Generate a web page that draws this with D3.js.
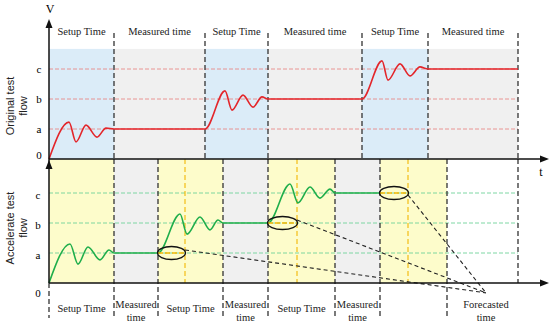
<!DOCTYPE html>
<html>
<head>
<meta charset="utf-8">
<script src="https://cdn.jsdelivr.net/npm/d3@7"></script>
<style>
  body { margin: 0; background: #fff; }
  svg { display: block; }
</style>
</head>
<body>
<svg id="chart" width="550" height="326"></svg>
<script>
// time boundaries of each phase (time units), and the level values a/b/c
const topBounds = [0, 65, 156, 219, 313, 379, 469];
const topPhases = ['Setup Time', 'Measured time', 'Setup Time', 'Measured time', 'Setup Time', 'Measured time'];
const botBounds = [0, 65, 109, 174, 219, 286, 331, 398, 469];
const botPhases = ['Setup Time', 'Measured\ntime', 'Setup Time', 'Measured\ntime', 'Setup Time', 'Measured\ntime', '', ''];
const levels = [{ name: '0', v: 0 }, { name: 'a', v: 1 }, { name: 'b', v: 2 }, { name: 'c', v: 3 }];
const forecastTimes = [136, 248, 359];
const forecastTarget = { t: 437, v: -0.33 };

// original test flow (red)
const redT = [0, 20, 27, 37, 48, 57, 65, 156, 176, 183, 194, 204, 213, 219, 313, 333, 339, 351, 361, 371, 379, 469];
const redV = [0, 1.23, 0.57, 1.13, 0.73, 1.03, 1, 1, 2.27, 1.63, 2.13, 1.73, 2.07, 2, 2, 3.27, 2.63, 3.17, 2.77, 3.07, 3, 3];
// accelerate test flow (green)
const greenT = [0, 21, 29, 39, 51, 60, 65, 109, 131, 138, 151, 161, 169, 174, 219, 241, 249, 261, 271, 281, 286, 331];
const greenV = [0, 1.3, 0.63, 1.2, 0.77, 1.1, 1, 1, 2.3, 1.63, 2.2, 1.77, 2.1, 2, 2, 3.3, 2.67, 3.2, 2.83, 3.13, 3, 3];

const svg = d3.select('#chart');
const x = d3.scaleLinear().domain([0, 500]).range([49, 549]);
const yTop = d3.scaleLinear().domain([0, 3]).range([159, 69]);
const yBot = d3.scaleLinear().domain([0, 3]).range([283, 193]);

const serif = '"Liberation Serif", "Times New Roman", serif';
const sans = '"Liberation Sans", Arial, sans-serif';

// background shading
const topFill = ['#dbecf8', '#f0f0f0'];
for (let i = 0; i < topBounds.length - 1; i++) {
  svg.append('rect')
    .attr('x', x(topBounds[i])).attr('y', yTop(3.67))
    .attr('width', x(topBounds[i + 1]) - x(topBounds[i]))
    .attr('height', yTop(0) - yTop(3.67))
    .attr('fill', topFill[i % 2]);
}
const botFill = ['#fdfccb', '#f0f0f0', '#fdfccb', '#f0f0f0', '#fdfccb', '#f0f0f0', '#fdfccb', '#fff'];
for (let i = 0; i < botBounds.length - 1; i++) {
  svg.append('rect')
    .attr('x', x(botBounds[i])).attr('y', yBot(4.13))
    .attr('width', x(botBounds[i + 1]) - x(botBounds[i]))
    .attr('height', yBot(0) - yBot(4.13))
    .attr('fill', botFill[i]);
}

// dashed level lines
levels.slice(1).forEach((l) => {
  svg.append('line')
    .attr('x1', x(0)).attr('x2', x(469))
    .attr('y1', yTop(l.v)).attr('y2', yTop(l.v))
    .attr('stroke', '#e88a88').attr('stroke-width', 0.9).attr('stroke-dasharray', '4,2');
  svg.append('line')
    .attr('x1', x(0)).attr('x2', x(469))
    .attr('y1', yBot(l.v)).attr('y2', yBot(l.v))
    .attr('stroke', '#6fd39a').attr('stroke-width', 0.9).attr('stroke-dasharray', '4,2');
});

// phase boundary dashed lines
topBounds.slice(1).forEach((t) => {
  svg.append('line')
    .attr('x1', x(t)).attr('x2', x(t)).attr('y1', 33).attr('y2', yTop(0))
    .attr('stroke', '#333').attr('stroke-width', 1.3).attr('stroke-dasharray', '5,3');
});
botBounds.forEach((t, i) => {
  const last = i === botBounds.length - 1;
  svg.append('line')
    .attr('x1', x(t)).attr('x2', x(t))
    .attr('y1', i === 0 ? yBot(0) : yTop(0))
    .attr('y2', last ? yBot(0) : 318)
    .attr('stroke', '#333').attr('stroke-width', 1.3).attr('stroke-dasharray', '5,3');
});

// forecast yellow dashed verticals
forecastTimes.forEach((t) => {
  svg.append('line')
    .attr('x1', x(t)).attr('x2', x(t)).attr('y1', yTop(0)).attr('y2', yBot(0))
    .attr('stroke', '#f2b705').attr('stroke-width', 1.1).attr('stroke-dasharray', '5,3');
});

// curves
const lineTop = d3.line().x((d) => x(d[0])).y((d) => yTop(d[1])).curve(d3.curveMonotoneX);
const lineBot = d3.line().x((d) => x(d[0])).y((d) => yBot(d[1])).curve(d3.curveMonotoneX);
svg.append('path')
  .attr('d', lineTop(d3.zip(redT, redV)))
  .attr('fill', 'none').attr('stroke', '#e3262b').attr('stroke-width', 1.6);
svg.append('path')
  .attr('d', lineBot(d3.zip(greenT, greenV)))
  .attr('fill', 'none').attr('stroke', '#1fae4b').attr('stroke-width', 1.6);

// forecast ellipses and arrows
const starts = [botBounds[2], botBounds[4], botBounds[6]];
forecastTimes.forEach((t, i) => {
  const v = i + 1;
  svg.append('line')
    .attr('x1', x(starts[i])).attr('x2', x(t))
    .attr('y1', yBot(v)).attr('y2', yBot(v))
    .attr('stroke', '#f2b705').attr('stroke-width', 1.6).attr('stroke-dasharray', '5,2');
  svg.append('ellipse')
    .attr('cx', (x(starts[i]) + x(t)) / 2).attr('cy', yBot(v))
    .attr('rx', (x(t) - x(starts[i])) / 2 + 0.5).attr('ry', 6.5)
    .attr('fill', 'none').attr('stroke', '#111').attr('stroke-width', 1.3);
  svg.append('line')
    .attr('x1', x(t)).attr('y1', yBot(v) + (i === 2 ? 2 : -3))
    .attr('x2', x(forecastTarget.t)).attr('y2', yBot(forecastTarget.v))
    .attr('stroke', '#222').attr('stroke-width', 1.1).attr('stroke-dasharray', '4,3');
});

// axes
const axisG = svg.append('g').attr('stroke', '#111').attr('stroke-width', 1.5);
axisG.append('line').attr('x1', x(0)).attr('x2', x(0)).attr('y1', 26).attr('y2', yBot(0));
axisG.append('line').attr('x1', x(0)).attr('x2', 541).attr('y1', yTop(0)).attr('y2', yTop(0));
axisG.append('line').attr('x1', x(0)).attr('x2', 541).attr('y1', yBot(0)).attr('y2', yBot(0));
const arrow = (px, py, dir) => {
  const p = dir === 'up'
    ? [[px, py], [px - 3.5, py + 9], [px + 3.5, py + 9]]
    : [[px, py], [px - 9, py - 3.5], [px - 9, py + 3.5]];
  svg.append('path').attr('d', d3.line()(p) + 'Z').attr('fill', '#111');
};
arrow(x(0), 19, 'up');
arrow(x(0), yTop(0) + 1, 'up');
arrow(549, yTop(0), 'right');
arrow(549, yBot(0), 'right');

// axis labels
svg.append('text').attr('x', x(0) + 1).attr('y', 13).attr('text-anchor', 'middle')
  .style('font', '12px ' + serif).text('V');
svg.append('text').attr('x', 541).attr('y', 176).attr('text-anchor', 'middle')
  .style('font', '12px ' + serif).text('t');

levels.forEach((l) => {
  svg.append('text').attr('x', 39).attr('y', yTop(l.v) + (l.v === 0 ? 0 : 4)).attr('text-anchor', 'middle')
    .style('font', '11px ' + serif).text(l.name);
  svg.append('text').attr('x', 38).attr('y', l.v === 0 ? 297 : yBot(l.v) + 6).attr('text-anchor', 'middle')
    .style('font', '11px ' + serif).text(l.name);
});

const sideLabel = (cy, lines) => {
  const g = svg.append('g').attr('transform', `translate(16,${cy}) rotate(-90)`);
  g.selectAll('text').data(lines).enter().append('text')
    .attr('x', 0).attr('y', (d, i) => (i - 0.5) * 13 + 4)
    .attr('text-anchor', 'middle')
    .style('font', '11px ' + sans).style('fill', '#222')
    .text((d) => d);
};
sideLabel(106, ['Original test', 'flow']);
sideLabel(228, ['Accelerate test', 'flow']);

// phase labels
for (let i = 0; i < topPhases.length; i++) {
  svg.append('text')
    .attr('x', x((topBounds[i] + topBounds[i + 1]) / 2)).attr('y', 35)
    .attr('text-anchor', 'middle').style('font', '10.5px ' + serif).style('fill', '#222')
    .text(topPhases[i]);
}
const phaseText = (cx, str) => {
  const parts = str.split('\n');
  const t = svg.append('text').attr('text-anchor', 'middle')
    .style('font', '10.5px ' + serif).style('fill', '#222');
  parts.forEach((p, j) => {
    t.append('tspan').attr('x', cx)
      .attr('y', parts.length === 1 ? 312 : 308 + j * 13)
      .text(p);
  });
};
for (let i = 0; i < botPhases.length; i++) {
  if (botPhases[i]) phaseText(x((botBounds[i] + botBounds[i + 1]) / 2), botPhases[i]);
}
phaseText(x(forecastTarget.t), 'Forecasted\ntime');
</script>
</body>
</html>
